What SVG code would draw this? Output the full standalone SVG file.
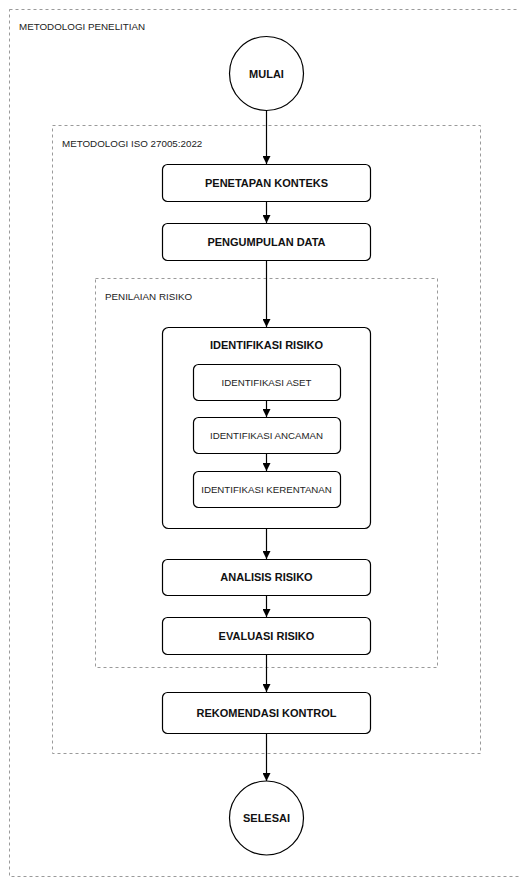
<svg xmlns="http://www.w3.org/2000/svg" width="519" height="879" viewBox="0 0 519 879">
<style>
.bg{fill:#fff}
.cont{fill:none;stroke:#9a9a9a;stroke-width:1;stroke-dasharray:3 3}
.box{fill:#fff;stroke:#000;stroke-width:1.2}
.lbl{font-family:"Liberation Sans",Arial,sans-serif;font-size:9.8px;fill:#222}
.b{font-family:"Liberation Sans",Arial,sans-serif;font-size:11px;font-weight:bold;fill:#111;text-anchor:middle}
.s{font-family:"Liberation Sans",Arial,sans-serif;font-size:9.7px;fill:#222;text-anchor:middle}
.edge{stroke:#000;stroke-width:1.2;fill:none;marker-end:url(#ah)}
</style>
<defs>
<marker id="ah" viewBox="0 0 10 10" refX="10" refY="5" markerWidth="8" markerHeight="8" markerUnits="userSpaceOnUse" orient="auto">
<path d="M0,0 L10,5 L0,10 z" fill="#000"/>
</marker>
</defs>
<rect class="bg" x="0" y="0" width="519" height="879"/>
<g id="containers">
<g id="c-penelitian"><rect class="cont" x="9.5" y="9.5" width="520" height="867"/><text class="lbl" x="19" y="30">METODOLOGI PENELITIAN</text></g>
<g id="c-iso"><rect class="cont" x="52.5" y="125.5" width="428" height="628"/><text class="lbl" x="62" y="147">METODOLOGI ISO 27005:2022</text></g>
<g id="c-penilaian"><rect class="cont" x="95.5" y="278.5" width="342" height="389"/><text class="lbl" x="105" y="300">PENILAIAN RISIKO</text></g>
</g>
<g id="mulai"><circle class="box" cx="266.5" cy="73.5" r="37"/><text class="b" x="266.5" y="77.5">MULAI</text></g>
<g id="penetapan"><rect class="box" x="162.5" y="164.5" width="208" height="37" rx="5"/><text class="b" x="266.5" y="187">PENETAPAN KONTEKS</text></g>
<g id="pengumpulan"><rect class="box" x="162.5" y="223.5" width="208" height="37" rx="5"/><text class="b" x="266.5" y="246">PENGUMPULAN DATA</text></g>
<g id="identifikasi-risiko"><rect class="box" x="162.5" y="327.5" width="208" height="201" rx="6"/><text class="b" x="266.5" y="349">IDENTIFIKASI RISIKO</text></g>
<g id="aset"><rect class="box" x="193.5" y="364.5" width="147" height="36" rx="5"/><text class="s" x="266.5" y="386">IDENTIFIKASI ASET</text></g>
<g id="ancaman"><rect class="box" x="193.5" y="417.5" width="147" height="36" rx="5"/><text class="s" x="266.5" y="439">IDENTIFIKASI ANCAMAN</text></g>
<g id="kerentanan"><rect class="box" x="193.5" y="471.5" width="147" height="36" rx="5"/><text class="s" x="266.5" y="493">IDENTIFIKASI KERENTANAN</text></g>
<g id="analisis"><rect class="box" x="162.5" y="559.5" width="208" height="36" rx="5"/><text class="b" x="266.5" y="581">ANALISIS RISIKO</text></g>
<g id="evaluasi"><rect class="box" x="162.5" y="617.5" width="208" height="37" rx="5"/><text class="b" x="266.5" y="640">EVALUASI RISIKO</text></g>
<g id="rekomendasi"><rect class="box" x="162.5" y="692.5" width="208" height="41" rx="5"/><text class="b" x="266.5" y="717">REKOMENDASI KONTROL</text></g>
<g id="selesai"><circle class="box" cx="266.5" cy="818" r="37"/><text class="b" x="266.5" y="822">SELESAI</text></g>
<g id="connectors">
<line class="edge" x1="266.5" y1="111" x2="266.5" y2="164"/>
<line class="edge" x1="266.5" y1="202" x2="266.5" y2="223"/>
<line class="edge" x1="266.5" y1="261" x2="266.5" y2="327"/>
<line class="edge" x1="266.5" y1="401" x2="266.5" y2="417"/>
<line class="edge" x1="266.5" y1="454" x2="266.5" y2="471"/>
<line class="edge" x1="266.5" y1="529" x2="266.5" y2="559"/>
<line class="edge" x1="266.5" y1="596" x2="266.5" y2="617"/>
<line class="edge" x1="266.5" y1="655" x2="266.5" y2="692"/>
<line class="edge" x1="266.5" y1="734" x2="266.5" y2="781"/>
</g>
</svg>
